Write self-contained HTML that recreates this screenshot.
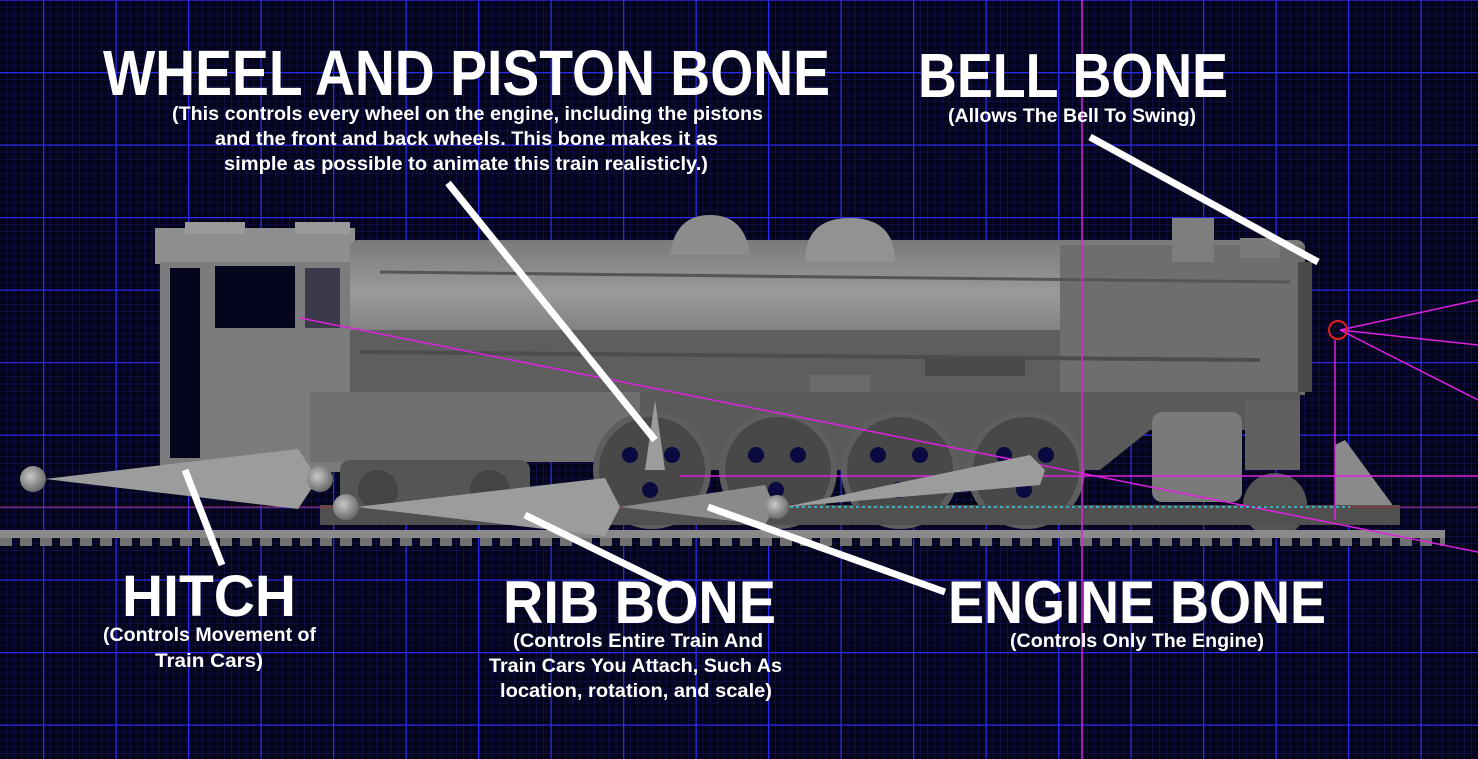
<!DOCTYPE html>
<html><head><meta charset="utf-8"><style>
html,body{margin:0;padding:0;background:#04041a;}
svg{display:block}
text{font-family:"Liberation Sans",sans-serif;font-weight:bold;fill:#fff}
</style></head><body>
<svg width="1478" height="759" viewBox="0 0 1478 759" xmlns="http://www.w3.org/2000/svg">
<defs>
<pattern id="minor" x="-29.5" y="-0.5" width="7.25" height="7.25" patternUnits="userSpaceOnUse">
<path d="M0 0H7.25M0 0V7.25" stroke="#16166e" stroke-width="1" fill="none"/>
</pattern>
<pattern id="major" x="43" y="72" width="72.5" height="72.5" patternUnits="userSpaceOnUse">
<path d="M0 0.5H72.5M0.5 0V72.5" stroke="#2a2af0" stroke-width="1.6" fill="none"/>
</pattern>
<linearGradient id="boiler" x1="0" y1="0" x2="0" y2="1">
<stop offset="0" stop-color="#7a7a7a"/><stop offset="0.35" stop-color="#9a9a9a"/><stop offset="1" stop-color="#5a5a5a"/>
</linearGradient>
<radialGradient id="ball" cx="0.4" cy="0.4" r="0.6"><stop offset="0" stop-color="#c8c8c8"/><stop offset="1" stop-color="#6a6a6a"/></radialGradient>
</defs>
<rect width="1478" height="759" fill="#04041a"/>
<rect width="1478" height="759" fill="url(#minor)"/>
<rect width="1478" height="759" fill="url(#major)"/>

<!-- train -->
<g>
<!-- cab -->
<rect x="155" y="228" width="200" height="36" fill="#8e8e8e"/>
<rect x="185" y="222" width="60" height="12" fill="#9a9a9a"/>
<rect x="295" y="222" width="55" height="12" fill="#9a9a9a"/>
<rect x="160" y="262" width="192" height="210" fill="#7c7c7c"/>
<rect x="170" y="268" width="30" height="190" fill="#05051e"/>
<rect x="215" y="266" width="80" height="62" fill="#05051e"/>
<rect x="305" y="268" width="35" height="60" fill="#3a3a4a"/>
<!-- boiler -->
<rect x="350" y="240" width="955" height="152" rx="8" fill="url(#boiler)"/>
<rect x="350" y="330" width="960" height="62" fill="#5e5e5e"/>
<rect x="1060" y="245" width="245" height="150" fill="#6e6e6e"/>
<rect x="1298" y="262" width="14" height="130" fill="#4a4a4a"/>
<path d="M670 255 Q675 215 710 215 Q745 215 750 255Z" fill="#8c8c8c"/>
<path d="M805 262 Q805 218 850 218 Q895 218 895 262Z" fill="#929292"/>
<rect x="1172" y="218" width="42" height="44" fill="#7e7e7e"/>
<rect x="1240" y="238" width="40" height="20" fill="#7a7a7a"/>
<line x1="380" y1="272" x2="1290" y2="282" stroke="#555" stroke-width="3"/>
<line x1="360" y1="352" x2="1260" y2="360" stroke="#4d4d4d" stroke-width="4"/>
<rect x="810" y="375" width="60" height="32" fill="#6a6a6a"/>
<rect x="925" y="358" width="100" height="18" fill="#4a4a4a"/>
<!-- running gear area -->
<path d="M310 392 H1300 V430 H1150 L1100 470 H620 L580 440 H310Z" fill="#5a5a5a"/>
<rect x="310" y="392" width="330" height="70" fill="#707070"/>
<rect x="340" y="460" width="190" height="60" rx="10" fill="#555"/>
<circle cx="378" cy="490" r="20" fill="#444"/><circle cx="490" cy="490" r="20" fill="#444"/>
<g fill="#484848" stroke="#5e5e5e" stroke-width="6">
<circle cx="652" cy="470" r="56"/><circle cx="778" cy="470" r="56"/><circle cx="900" cy="470" r="56"/><circle cx="1026" cy="470" r="56"/>
</g>
<g fill="#0a0a40">
<circle cx="630" cy="455" r="8"/><circle cx="672" cy="455" r="8"/><circle cx="650" cy="490" r="8"/>
<circle cx="756" cy="455" r="8"/><circle cx="798" cy="455" r="8"/><circle cx="776" cy="490" r="8"/>
<circle cx="878" cy="455" r="8"/><circle cx="920" cy="455" r="8"/><circle cx="898" cy="490" r="8"/>
<circle cx="1004" cy="455" r="8"/><circle cx="1046" cy="455" r="8"/><circle cx="1024" cy="490" r="8"/>
</g>
<rect x="1152" y="412" width="90" height="90" rx="10" fill="#7a7a7a"/>
<circle cx="1275" cy="505" r="32" fill="#555"/>
<path d="M1245 400 H1300 V470 H1245Z" fill="#606060"/>
<path d="M1335 445 L1345 440 L1400 515 H1335Z" fill="#8a8a8a"/>
<rect x="320" y="505" width="1080" height="20" fill="#505050"/>
</g>
<!-- track -->
<rect x="0" y="530" width="1445" height="8" fill="#8a8a8a"/>
<rect x="0" y="538" width="1445" height="8" fill="url(#ties)"/>
<pattern id="ties" x="0" y="0" width="20" height="10" patternUnits="userSpaceOnUse"><rect width="12" height="10" fill="#707070"/></pattern>
<rect x="0" y="538" width="1445" height="8" fill="url(#ties)"/>

<!-- magenta guide lines -->
<g stroke="#e020e0" stroke-width="1.5" fill="none">
<line x1="1082" y1="0" x2="1082" y2="759"/>
<line x1="680" y1="476" x2="1478" y2="476"/>
<line x1="300" y1="318" x2="1478" y2="552"/>
<line x1="1340" y1="330" x2="1478" y2="400"/>
<line x1="1340" y1="330" x2="1478" y2="345"/>
<line x1="1340" y1="330" x2="1478" y2="300"/>
<line x1="1335" y1="340" x2="1335" y2="520"/>
</g>
<line x1="0" y1="507" x2="1478" y2="507" stroke="#a03030" stroke-width="1"/>
<line x1="700" y1="507" x2="1350" y2="507" stroke="#30d0e0" stroke-width="1.5" stroke-dasharray="3 3"/>

<!-- bones -->
<g fill="#9c9c9c">
<path d="M45 479 L298 449 L318 479 L298 509Z"/>
<path d="M356 507 L605 478 L620 507 L605 536Z"/>
<path d="M620 507 L765 485 L775 507 L765 525Z" fill="#8a8a8a"/>
<path d="M785 507 L1030 455 L1045 470 L1040 485Z"/>
<path d="M645 470 L655 400 L665 470Z"/>
</g>
<circle cx="33" cy="479" r="13" fill="url(#ball)"/>
<circle cx="320" cy="479" r="13" fill="url(#ball)"/>
<circle cx="346" cy="507" r="13" fill="url(#ball)"/>
<circle cx="777" cy="507" r="12" fill="url(#ball)"/>
<circle cx="1338" cy="330" r="9" fill="none" stroke="#e02020" stroke-width="2"/>

<!-- pointers -->
<g stroke="#fff" stroke-width="7" stroke-linecap="butt">
<line x1="448" y1="183" x2="655" y2="440"/>
<line x1="1090" y1="137" x2="1318" y2="262"/>
<line x1="185" y1="470" x2="222" y2="565"/>
<line x1="525" y1="515" x2="668" y2="585"/>
<line x1="708" y1="507" x2="945" y2="592"/>
</g>

<!-- text -->
<text x="103" y="95" font-size="64" textLength="727" lengthAdjust="spacingAndGlyphs">WHEEL AND PISTON BONE</text>
<text x="172" y="120" font-size="19" textLength="591" lengthAdjust="spacingAndGlyphs">(This controls every wheel on the engine, including the pistons</text>
<text x="215" y="145" font-size="19" textLength="503" lengthAdjust="spacingAndGlyphs">and the front and back wheels. This bone makes it as</text>
<text x="224" y="170" font-size="19" textLength="484" lengthAdjust="spacingAndGlyphs">simple as possible to animate this train realisticly.)</text>
<text x="918" y="97" font-size="62" textLength="310" lengthAdjust="spacingAndGlyphs">BELL BONE</text>
<text x="948" y="122" font-size="19" textLength="248" lengthAdjust="spacingAndGlyphs">(Allows The Bell To Swing)</text>
<text x="122" y="616" font-size="58" textLength="174" lengthAdjust="spacingAndGlyphs">HITCH</text>
<text x="103" y="641" font-size="19" textLength="213" lengthAdjust="spacingAndGlyphs">(Controls Movement of</text>
<text x="155" y="667" font-size="19" textLength="108" lengthAdjust="spacingAndGlyphs">Train Cars)</text>
<text x="503" y="623" font-size="60" textLength="273" lengthAdjust="spacingAndGlyphs">RIB BONE</text>
<text x="513" y="647" font-size="19" textLength="250" lengthAdjust="spacingAndGlyphs">(Controls Entire Train And</text>
<text x="489" y="672" font-size="19" textLength="293" lengthAdjust="spacingAndGlyphs">Train Cars You Attach, Such As</text>
<text x="500" y="697" font-size="19" textLength="272" lengthAdjust="spacingAndGlyphs">location, rotation, and scale)</text>
<text x="948" y="623" font-size="60" textLength="378" lengthAdjust="spacingAndGlyphs">ENGINE BONE</text>
<text x="1010" y="647" font-size="19" textLength="254" lengthAdjust="spacingAndGlyphs">(Controls Only The Engine)</text>
</svg>
</body></html>
